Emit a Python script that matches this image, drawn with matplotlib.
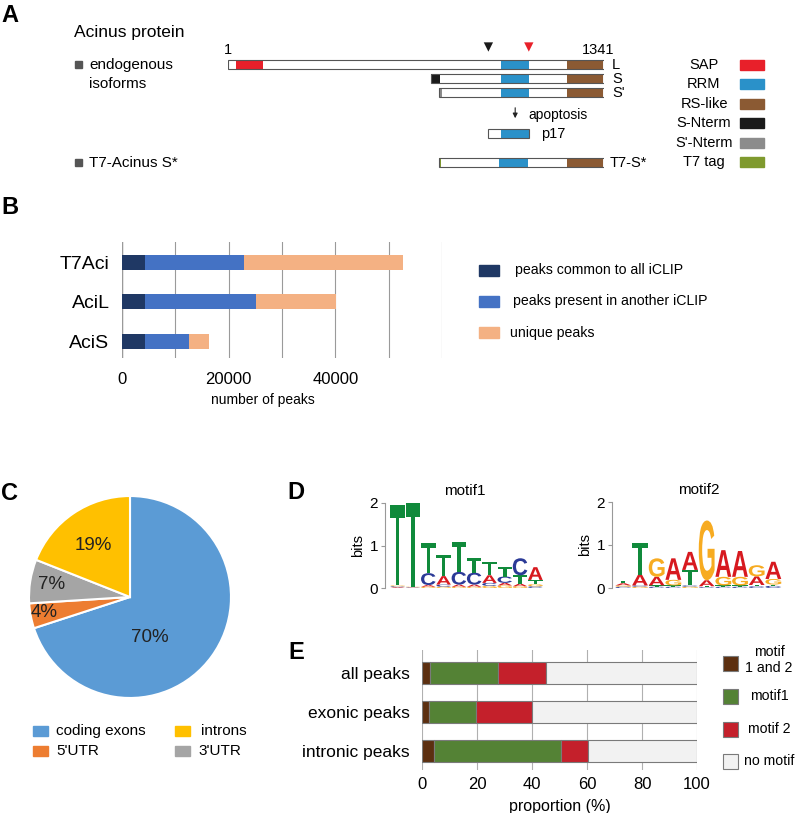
import matplotlib
matplotlib.use('Agg')
import matplotlib.pyplot as plt
import matplotlib.transforms as mtransforms
from matplotlib.patches import Rectangle, PathPatch
from matplotlib.textpath import TextPath
from matplotlib.font_manager import FontProperties

plt.rcParams['font.family'] = ['Liberation Sans', 'DejaVu Sans']

W, H = 796, 813

# ---------- data ----------
# A : Acinus isoforms, amino-acid coordinates
iso_names = ['L', 'S', "S'", 'p17', 'T7-S*']
iso_start = [1, 723, 754, 929, 754]
iso_end = [1341, 1341, 1341, 1075, 1341]
dom_names = ['SAP', 'RRM', 'RS-like', 'S-Nterm', "S'-Nterm", 'T7 tag']
dom_colors = ['#e8202a', '#2a91c9', '#8b5a33', '#1a1a1a', '#8c8c8c', '#7f9a2e']
# (isoform, domain, start, end)
iso_domains = [
    (0, 0, 30, 126), (0, 1, 974, 1075), (0, 2, 1208, 1338),
    (1, 3, 723, 756), (1, 1, 974, 1075), (1, 2, 1208, 1338),
    (2, 4, 754, 762), (2, 1, 974, 1075), (2, 2, 1208, 1338),
    (3, 1, 974, 1075),
    (4, 5, 754, 760), (4, 1, 967, 1069), (4, 2, 1208, 1338),
]
cleavage_sites = [929, 1073]
cleavage_colors = ['#1a1a1a', '#e8202a']

# B : iCLIP peaks
b_samples = ['T7Aci', 'AciL', 'AciS']
b_common = [4300, 4300, 4400]
b_shared = [18600, 20800, 8100]
b_unique = [29700, 15000, 3800]
b_labels = ['peaks common to all iCLIP', 'peaks present in another iCLIP', 'unique peaks']
b_colors = ['#1f3864', '#4472c4', '#f4b183']

# C : peak location
c_labels = ['coding exons', "5'UTR", "3'UTR", 'introns']
c_values = [70, 4, 7, 19]
c_colors = ['#5b9bd5', '#ed7d31', '#a5a5a5', '#ffc000']

# D : motif logos, per position letter heights (bits), stacked bottom -> top
motif1 = [
    [('A', .02), ('C', .02), ('G', .02), ('T', 1.90)],
    [('A', .01), ('C', .01), ('G', .01), ('T', 1.96)],
    [('G', .03), ('A', .04), ('C', .28), ('T', .70)],
    [('G', .03), ('C', .05), ('A', .20), ('T', .50)],
    [('G', .03), ('A', .05), ('C', .30), ('T', .71)],
    [('G', .03), ('A', .05), ('C', .28), ('T', .34)],
    [('G', .05), ('C', .07), ('A', .18), ('T', .32)],
    [('G', .06), ('A', .06), ('C', .15), ('T', .22)],
    [('G', .04), ('A', .06), ('T', .20), ('C', .40)],
    [('C', .04), ('G', .05), ('T', .10), ('A', .30)],
]
motif2 = [
    [('C', .03), ('G', .03), ('A', .05), ('T', .06)],
    [('G', .03), ('C', .03), ('A', .25), ('T', .74)],
    [('C', .03), ('T', .03), ('A', .20), ('G', .43)],
    [('C', .03), ('T', .03), ('G', .13), ('A', .50)],
    [('G', .03), ('C', .03), ('T', .36), ('A', .42)],
    [('C', .02), ('T', .02), ('A', .14), ('G', 1.39)],
    [('C', .03), ('T', .03), ('G', .20), ('A', .62)],
    [('C', .03), ('T', .03), ('G', .20), ('A', .60)],
    [('C', .04), ('T', .03), ('A', .20), ('G', .26)],
    [('C', .05), ('T', .03), ('G', .13), ('A', .40)],
]
base_colors = {'A': '#d7191f', 'C': '#2b3a97', 'G': '#f7ab21', 'T': '#108a3b'}

# E : motif presence
e_groups = ['all peaks', 'exonic peaks', 'intronic peaks']
e_both = [2.9, 2.4, 4.4]
e_motif1 = [24.7, 17.2, 46.1]
e_motif2 = [17.5, 20.5, 9.9]
e_none = [54.9, 59.9, 39.6]
e_labels = ['motif\n1 and 2', 'motif1', 'motif 2', 'no motif']
e_colors = ['#5c2f10', '#548235', '#c4202b', '#f2f2f2']


def frac(x0, y0, x1, y1):
    return [x0 / W, 1 - y1 / H, (x1 - x0) / W, (y1 - y0) / H]


fig = plt.figure(figsize=(W / 100, H / 100), dpi=100)
cv = fig.add_axes([0, 0, 1, 1], zorder=-1)
cv.set_xlim(0, W)
cv.set_ylim(H, 0)
cv.axis('off')

# panel letters
for letter, (x, y) in zip('ABCDE', [(10, 16), (10, 207), (9, 493), (296, 492), (296, 652)]):
    cv.text(x, y, letter, fontsize=17, fontweight='bold', ha='center', va='center')

# ---------- A ----------
cv.text(74, 33, 'Acinus protein', fontsize=12.5, va='center')
for y in [65, 163]:
    cv.add_patch(Rectangle((75, y - 3.5), 7, 7, color='#555555'))
cv.text(89, 65, 'endogenous', fontsize=11, va='center')
cv.text(89, 84, 'isoforms', fontsize=11, va='center')
cv.text(89, 163, 'T7-Acinus S*', fontsize=11, va='center')

axA = fig.add_axes(frac(228, 30, 604, 180))
axA.set_xlim(1, 1341)
axA.set_ylim(180, 30)
axA.axis('off')
row_y = [65, 79, 93, 134, 163]
label_off = [8, 8, 8, 12, 6]
for i, name in enumerate(iso_names):
    axA.barh(row_y[i], iso_end[i] - iso_start[i], left=iso_start[i], height=9,
             color='white', edgecolor='none', zorder=1)
    axA.barh(row_y[i], iso_end[i] - iso_start[i], left=iso_start[i], height=9,
             fill=False, edgecolor='#555555', lw=0.8, zorder=3)
    axA.annotate(name, (iso_end[i], row_y[i]), xytext=(label_off[i] * 0.72, 0),
                 textcoords='offset points', ha='left', va='center', fontsize=10.5)
for iso, d, s, e in iso_domains:
    axA.barh(row_y[iso], e - s, left=s, height=9, color=dom_colors[d],
             edgecolor='none', zorder=2)
axA.scatter(cleavage_sites, [47, 47], marker='v', s=45, c=cleavage_colors,
            linewidths=0, zorder=3)
axA.text(iso_start[0], 50, '1', ha='center', va='center', fontsize=10.5)
axA.annotate('1341', (iso_end[0], 50), xytext=(-4.5, 0), textcoords='offset points',
             ha='center', va='center', fontsize=10.5)
rrm_mid = (974 + 1075) / 2
axA.annotate('', xy=(rrm_mid, 121), xytext=(rrm_mid, 105),
             arrowprops=dict(arrowstyle='-|>', color='#222222', lw=0.8,
                             mutation_scale=7))
axA.text(1071, 115, 'apoptosis', ha='left', va='center', fontsize=10)

leg_y = [65, 84, 104, 123, 143, 162]
for i, name in enumerate(dom_names):
    cv.text(704, leg_y[i], name, ha='center', va='center', fontsize=10.5)
    cv.add_patch(Rectangle((740, leg_y[i] - 5), 24, 10, color=dom_colors[i]))

# ---------- B ----------
axB = fig.add_axes(frac(122, 242, 442, 358))
pos = range(len(b_samples))
left = [0, 0, 0]
for vals, col in zip([b_common, b_shared, b_unique], b_colors):
    axB.barh(pos, vals, left=left, height=0.38, color=col, zorder=2)
    left = [l + v for l, v in zip(left, vals)]
axB.set_xlim(0, 60000)
axB.set_ylim(2.43, -0.51)
axB.set_yticks(list(pos))
axB.set_yticklabels(b_samples, fontsize=14)
axB.set_xticks([0, 20000, 40000])
axB.set_xticks(range(0, 60001, 10000), minor=True)
axB.tick_params(axis='both', which='both', length=0)
axB.tick_params(axis='y', pad=9)
axB.tick_params(axis='x', labelsize=12, pad=10)
axB.grid(which='both', axis='x', color='#9a9a9a', lw=0.8, zorder=0)
for s in axB.spines.values():
    s.set_visible(False)
axB.axvline(0, color='#555555', lw=0.9, zorder=1)
axB.set_xlabel('number of peaks', fontsize=10)
axB.xaxis.set_label_coords((263 - 122) / 320, (358 - 400) / 116)
axB.xaxis.label.set_va('center')

b_leg_y = [270, 301, 333]
b_leg_x = [515, 513, 510]
for i, lab in enumerate(b_labels):
    cv.add_patch(Rectangle((479, b_leg_y[i] - 5.5), 20, 11, color=b_colors[i]))
    cv.text(b_leg_x[i], b_leg_y[i], lab, va='center', fontsize=10.2)

# ---------- C ----------
axC = fig.add_axes(frac(28, 495, 232, 699))
axC.pie(c_values, colors=c_colors, startangle=90, counterclock=False,
        wedgeprops=dict(edgecolor='white', linewidth=1.5))
axC.set_xlim(-1.01, 1.01)
axC.set_ylim(-1.01, 1.01)
pct_pos = [(0.20, -0.40), (-0.85, -0.15), (-0.78, 0.125), (-0.36, 0.51)]
for v, (x, y) in zip(c_values, pct_pos):
    axC.text(x, y, f'{v}%', ha='center', va='center', fontsize=13.5, color='#222222')

c_leg = [(33, 731, 56), (33, 751, 56), (175, 751, 198), (175, 731, 201)]
for i, lab in enumerate(c_labels):
    bx, by, tx = c_leg[i]
    cv.add_patch(Rectangle((bx, by - 5), 15, 10, color=c_colors[i]))
    cv.text(tx, by, lab, va='center', fontsize=11)

# ---------- D ----------
logo_font = FontProperties(family='Liberation Sans', weight='bold')


def draw_logo(ax, motif):
    for i, column in enumerate(motif):
        x = i + 1 - 0.475
        y = 0
        for base, h in column:
            tp = TextPath((0, 0), base, size=1, prop=logo_font)
            bb = tp.get_extents()
            tr = mtransforms.Affine2D().translate(-bb.x0, -bb.y0) \
                .scale(0.95 / bb.width, h / bb.height).translate(x, y)
            ax.add_patch(PathPatch(tr.transform_path(tp), color=base_colors[base],
                                   lw=0, clip_on=False))
            y += h


for motif, box, xl, title in [(motif1, (385, 503, 545, 588), (0.17, 10.63), 'motif1'),
                              (motif2, (612, 502, 785, 588), (0.32, 10.7), 'motif2')]:
    ax = fig.add_axes(frac(*box))
    ax.patch.set_visible(False)
    draw_logo(ax, motif)
    ax.set_xlim(*xl)
    ax.set_ylim(0, 2)
    ax.set_yticks([0, 1, 2])
    ax.set_xticks([])
    for s in ['top', 'right', 'bottom']:
        ax.spines[s].set_visible(False)
    ax.spines['left'].set_color('#999999')
    ax.spines['left'].set_linewidth(0.8)
    ax.tick_params(axis='y', length=3, color='#999999', labelsize=11, pad=2)
    ax.set_ylabel('bits', fontsize=10.5, labelpad=3)
    ax.set_title(title, fontsize=11, pad=6)

# ---------- E ----------
axE = fig.add_axes(frac(422, 650, 697, 770))
pos = range(len(e_groups))
left = [0, 0, 0]
for vals, col in zip([e_both, e_motif1, e_motif2, e_none], e_colors):
    axE.barh(pos, vals, left=left, height=0.56, color=col, edgecolor='#7a7a7a',
             lw=0.8, zorder=2)
    left = [l + v for l, v in zip(left, vals)]
axE.set_xlim(0, 100)
axE.set_ylim(2.49, -0.59)
axE.set_yticks(list(pos))
axE.set_yticklabels(e_groups, fontsize=12.5)
axE.set_xticks(range(0, 101, 20))
axE.tick_params(axis='y', length=0, pad=9)
axE.tick_params(axis='x', length=0, labelsize=12, pad=5)
axE.grid(axis='x', color='#b0b0b0', lw=0.8, zorder=0)
for s in axE.spines.values():
    s.set_visible(False)
axE.set_xlabel('proportion (%)', fontsize=11.5, labelpad=5)

e_leg_y = [663, 696, 729, 761]
e_txt_y = [660, 696, 729, 761]
for i, lab in enumerate(e_labels):
    cv.add_patch(Rectangle((723, e_leg_y[i] - 7.5), 15, 15, facecolor=e_colors[i],
                           edgecolor='#7a7a7a', lw=0.8))
    cv.text(769, e_txt_y[i], lab, ha='center', va='center', fontsize=10.2,
            linespacing=1.2)

fig.savefig('out.png', dpi=100)
